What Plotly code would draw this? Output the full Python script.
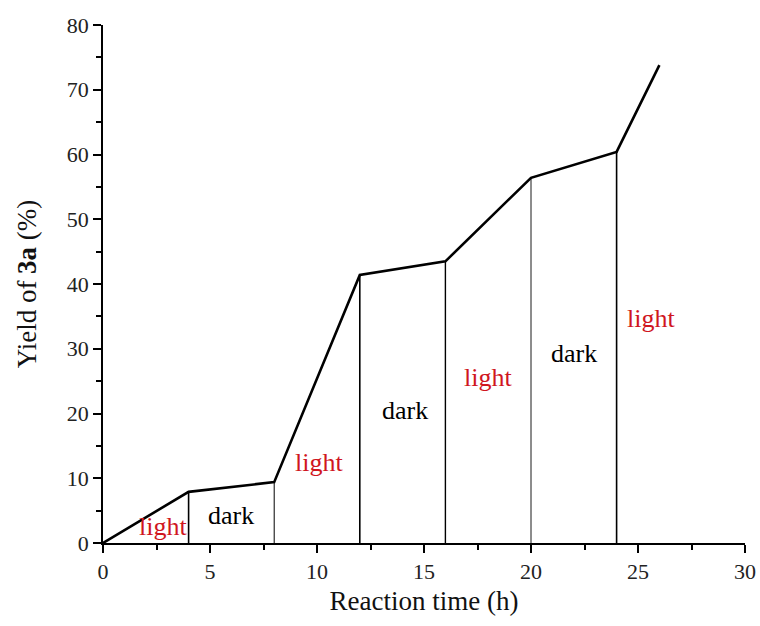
import plotly.graph_objects as go

time_h = [0, 4, 8, 12, 16, 20, 24, 26]
yield_pct = [0, 7.9, 9.4, 41.4, 43.5, 56.4, 60.4, 73.8]

switch_times = [4, 8, 12, 16, 20, 24]
switch_yields = [7.9, 9.4, 41.4, 43.5, 56.4, 60.4]
switch_widths = [1.6, 1.0, 1.6, 1.4, 0.9, 1.6]

label_texts = ["light", "dark", "light", "dark", "light", "dark", "light"]
label_x = [2.8, 6.0, 10.1, 14.1, 18.0, 22.0, 25.6]
label_y = [2.5, 4.2, 12.4, 20.5, 25.5, 29.3, 34.7]
label_colors = ["#d0161e", "#000000", "#d0161e", "#000000", "#d0161e", "#000000", "#d0161e"]

fig = go.Figure()

for t, yv, w in zip(switch_times, switch_yields, switch_widths):
    fig.add_trace(go.Scatter(x=[t, t], y=[0, yv], mode="lines",
                             line=dict(color="black", width=w),
                             showlegend=False, hoverinfo="skip"))

fig.add_trace(go.Scatter(x=time_h, y=yield_pct, mode="lines",
                         line=dict(color="black", width=2.6),
                         showlegend=False))

for txt, lx, ly, c in zip(label_texts, label_x, label_y, label_colors):
    fig.add_annotation(x=lx, y=ly, text=txt, showarrow=False,
                       font=dict(family="Liberation Serif", size=26, color=c))

axis_common = dict(
    showline=True, linecolor="black", linewidth=1.8,
    ticks="outside", tickcolor="black", tickwidth=1.8, ticklen=8,
    showgrid=False, zeroline=False, automargin=False,
    tickfont=dict(family="Liberation Serif", size=22, color="#222"),
)

fig.update_xaxes(range=[0, 30], dtick=5, tick0=0,
                 minor=dict(dtick=2.5, ticks="outside", ticklen=5, tickcolor="black", tickwidth=1.5),
                 title=dict(text="Reaction time (h)", standoff=8,
                            font=dict(family="Liberation Serif", size=27, color="#111")),
                 **axis_common)
fig.update_yaxes(range=[0, 80], dtick=10, tick0=0,
                 minor=dict(dtick=5, ticks="outside", ticklen=5, tickcolor="black", tickwidth=1.5),
                 title=dict(text="Yield of <b>3a</b> (%)", standoff=22,
                            font=dict(family="Liberation Serif", size=27, color="#111")),
                 **axis_common)

fig.update_layout(
    width=760, height=626,
    margin=dict(l=103, r=15, t=25, b=83),
    plot_bgcolor="white", paper_bgcolor="white",
)

fig.write_html("out.html")
